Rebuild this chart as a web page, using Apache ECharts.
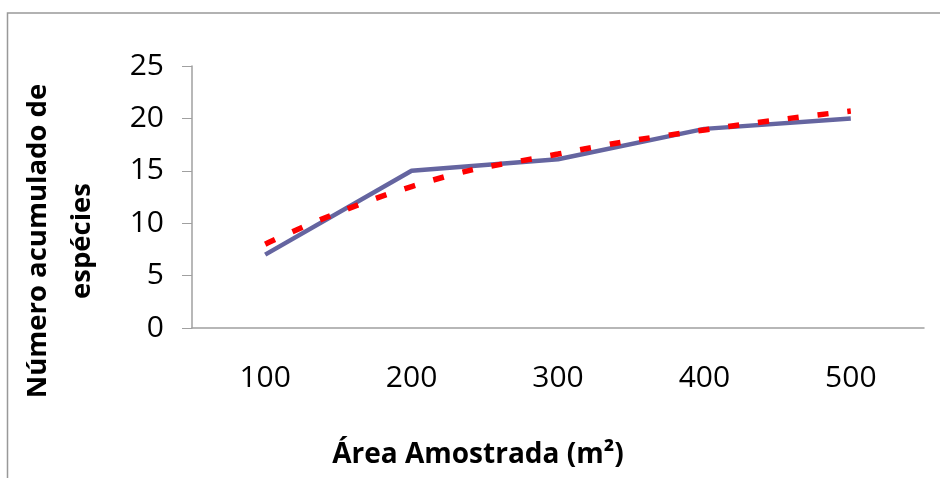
<!DOCTYPE html>
<html>
<head>
<meta charset="utf-8">
<script src="https://cdn.jsdelivr.net/npm/echarts@6/dist/echarts.min.js"></script>
<style>
  html, body { margin: 0; padding: 0; background: #fff; }
  #chart { width: 940px; height: 478px; }
</style>
</head>
<body>
<div id="chart"></div>
<script>
// dados
var areas = ['100', '200', '300', '400', '500'];
var especies = [7, 15, 16.1, 19, 20];
var tendencia = [8, 13.5, 16.6, 18.9, 20.7];
var yTicks = [0, 5, 10, 15, 20, 25];

var fonte = '"Open Sans", sans-serif';
var cinza = '#a0a0a0';

var myChart = echarts.init(document.getElementById('chart'));
var option = {
    backgroundColor: '#fff',
    animation: false,
    grid: {
        left: 192,
        right: 16,
        top: 66,
        bottom: 150
    },
    xAxis: {
        type: 'category',
        data: areas,
        boundaryGap: true,
        axisLine: { lineStyle: { color: cinza, width: 1.5 } },
        axisTick: { length: 9, lineStyle: { color: cinza } },
        axisLabel: {
            color: '#000',
            fontFamily: fonte,
            fontSize: 30,
            margin: 35
        }
    },
    yAxis: {
        type: 'value',
        min: yTicks[0],
        max: yTicks[yTicks.length - 1],
        interval: 5,
        splitLine: { show: false },
        axisLine: { show: true, lineStyle: { color: cinza, width: 1.5 } },
        axisTick: { show: true, length: 10, lineStyle: { color: cinza } },
        axisLabel: {
            color: '#000',
            fontFamily: fonte,
            fontSize: 30,
            margin: 28
        }
    },
    graphic: [
        {
            type: 'rect',
            shape: { x: 7.5, y: 13, width: 960, height: 500 },
            style: { fill: 'none', stroke: '#999', lineWidth: 1.5 },
            silent: true
        },
        {
            type: 'text',
            x: 60,
            y: 241,
            rotation: Math.PI / 2,
            style: {
                text: 'Número acumulado de\nespécies',
                font: 'bold 27.5px "Open Sans", sans-serif',
                lineHeight: 44,
                fill: '#000',
                align: 'center',
                verticalAlign: 'middle'
            }
        },
        {
            type: 'text',
            x: 478,
            y: 455,
            style: {
                text: 'Área Amostrada (m²)',
                font: 'bold 28px "Open Sans", sans-serif',
                fill: '#000',
                align: 'center',
                verticalAlign: 'middle'
            }
        }
    ],
    series: [
        {
            name: 'Observado',
            type: 'line',
            data: especies,
            symbol: 'none',
            lineStyle: { color: '#6565a0', width: 4.5 },
            z: 2
        },
        {
            name: 'Tendência',
            type: 'line',
            data: tendencia,
            smooth: true,
            symbol: 'none',
            lineStyle: { color: '#ff0000', width: 5.5, type: [11, 19], cap: 'butt' },
            z: 3
        }
    ]
};
myChart.setOption(option);
</script>
</body>
</html>
